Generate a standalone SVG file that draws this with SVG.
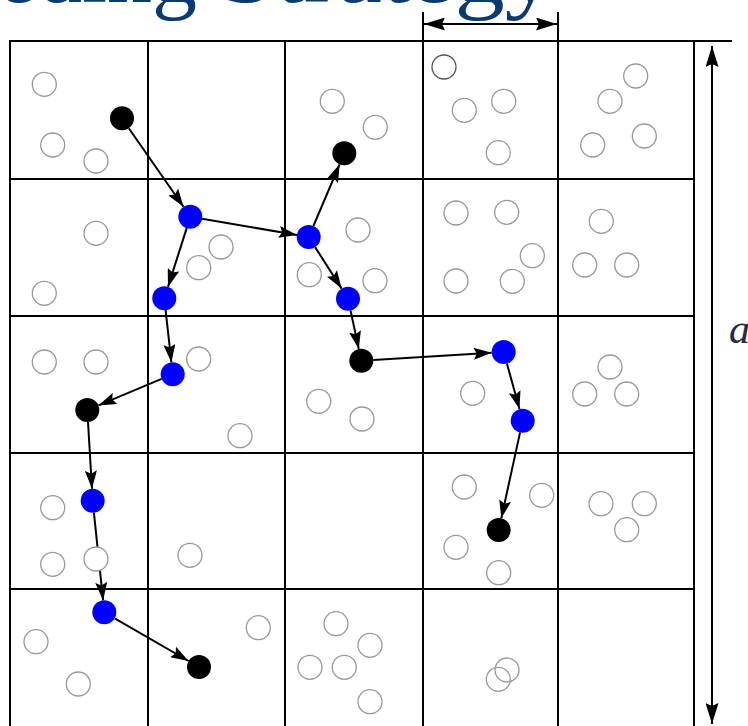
<svg xmlns="http://www.w3.org/2000/svg" width="748" height="726" viewBox="0 0 748 726">
<style>
.grid{stroke:#000;stroke-width:2;fill:none}
.open{fill:#fff;stroke:#999;stroke-width:1.3}
.dark{fill:#fff;stroke:#555;stroke-width:1.3}
.blue{fill:#0000ff;stroke:none}
.black{fill:#000;stroke:none}
.edge{stroke:#000;stroke-width:2;fill:none;marker-end:url(#ah)}
.dim{stroke:#000;stroke-width:2;fill:none;marker-start:url(#dh);marker-end:url(#dh)}
.title{font-family:"Liberation Serif",serif;font-size:90px;fill:#0b3a70}
.lbl{font-family:"Liberation Serif",serif;font-style:italic;font-size:42px;fill:#2a2a40}
</style>
<defs>
<marker id="ah" markerUnits="userSpaceOnUse" markerWidth="18" markerHeight="12" refX="18" refY="6" orient="auto">
<path d="M0,0 L18,6 L0,12 L3,6 z" fill="#000"/>
</marker>
<marker id="dh" markerUnits="userSpaceOnUse" markerWidth="21" markerHeight="13" refX="21" refY="6.5" orient="auto-start-reverse">
<path d="M0,0 L21,6.5 L0,13 L3,6.5 z" fill="#000"/>
</marker>
</defs>
<rect width="748" height="726" fill="#fff"/>

<g id="title">
<text class="title" x="197" y="2" text-anchor="end">Seeding</text>
<text class="title" x="220" y="2" textLength="335" lengthAdjust="spacingAndGlyphs">Strategy</text>
</g>

<g id="grid">
<line class="grid" x1="9" y1="41" x2="732" y2="41"/>
<line class="grid" x1="10" y1="41" x2="10" y2="726"/>
<line class="grid" x1="148" y1="41" x2="148" y2="726"/>
<line class="grid" x1="285" y1="41" x2="285" y2="726"/>
<line class="grid" x1="423" y1="12" x2="423" y2="726"/>
<line class="grid" x1="558" y1="12" x2="558" y2="726"/>
<line class="grid" x1="694" y1="41" x2="694" y2="726"/>
<line class="grid" x1="10" y1="179" x2="694" y2="179"/>
<line class="grid" x1="10" y1="316" x2="694" y2="316"/>
<line class="grid" x1="10" y1="453" x2="694" y2="453"/>
<line class="grid" x1="10" y1="589" x2="694" y2="589"/>
</g>

<g id="dimensions">
<line class="dim" x1="424" y1="24" x2="557" y2="24"/>
<line class="dim" x1="712" y1="46" x2="712" y2="724"/>
<text class="lbl" x="729" y="343">a</text>
</g>

<g id="connectors">
<line class="edge" x1="128.8" y1="128.2" x2="183.5" y2="206.8"/>
<line class="edge" x1="202.1" y1="218.7" x2="296.9" y2="235.0"/>
<line class="edge" x1="186.7" y1="228.1" x2="168.0" y2="286.9"/>
<line class="edge" x1="313.4" y1="226.0" x2="339.6" y2="164.3"/>
<line class="edge" x1="315.1" y1="247.1" x2="341.6" y2="288.6"/>
<line class="edge" x1="165.6" y1="310.2" x2="171.4" y2="362.4"/>
<line class="edge" x1="350.5" y1="310.4" x2="358.8" y2="349.0"/>
<line class="edge" x1="161.6" y1="378.9" x2="98.4" y2="405.4"/>
<line class="edge" x1="373.3" y1="360.0" x2="491.7" y2="352.7"/>
<line class="edge" x1="506.9" y1="363.6" x2="519.5" y2="409.1"/>
<line class="edge" x1="520.1" y1="432.4" x2="501.3" y2="518.3"/>
<line class="edge" x1="88.0" y1="422.0" x2="92.0" y2="488.7"/>
<line class="edge" x1="93.9" y1="512.6" x2="103.1" y2="600.4"/>
<line class="edge" x1="114.7" y1="618.3" x2="188.6" y2="661.0"/>
</g>

<g id="open-points">
<g id="o1"><circle class="open" cx="44.3" cy="84.3" r="12"/></g>
<g id="o2"><circle class="open" cx="52.7" cy="145" r="12"/></g>
<g id="o3"><circle class="open" cx="96" cy="161" r="12"/></g>
<g id="o4"><circle class="open" cx="96" cy="233.3" r="12"/></g>
<g id="o5"><circle class="open" cx="221" cy="247" r="12"/></g>
<g id="o6"><circle class="open" cx="198.7" cy="267.7" r="12"/></g>
<g id="o7"><circle class="open" cx="44.3" cy="293.3" r="12"/></g>
<g id="o8"><circle class="open" cx="332.3" cy="101.3" r="12"/></g>
<g id="o9"><circle class="open" cx="375.3" cy="127.3" r="12"/></g>
<g id="o10"><circle class="dark" cx="444" cy="67" r="12"/></g>
<g id="o11"><circle class="open" cx="464.3" cy="110.3" r="12"/></g>
<g id="o12"><circle class="open" cx="503.7" cy="101.3" r="12"/></g>
<g id="o13"><circle class="open" cx="498.3" cy="152.7" r="12"/></g>
<g id="o14"><circle class="open" cx="358" cy="230" r="12"/></g>
<g id="o15"><circle class="open" cx="309.3" cy="274.7" r="12"/></g>
<g id="o16"><circle class="open" cx="375" cy="280.7" r="12"/></g>
<g id="o17"><circle class="open" cx="456" cy="213" r="12"/></g>
<g id="o18"><circle class="open" cx="506.7" cy="212.3" r="12"/></g>
<g id="o19"><circle class="open" cx="532.3" cy="255.7" r="12"/></g>
<g id="o20"><circle class="open" cx="456" cy="281" r="12"/></g>
<g id="o21"><circle class="open" cx="512.3" cy="281.3" r="12"/></g>
<g id="o22"><circle class="open" cx="635.7" cy="76" r="12"/></g>
<g id="o23"><circle class="open" cx="610" cy="101.3" r="12"/></g>
<g id="o24"><circle class="open" cx="592.7" cy="145" r="12"/></g>
<g id="o25"><circle class="open" cx="644.3" cy="136" r="12"/></g>
<g id="o26"><circle class="open" cx="601.3" cy="221.3" r="12"/></g>
<g id="o27"><circle class="open" cx="584.7" cy="265" r="12"/></g>
<g id="o28"><circle class="open" cx="626.7" cy="265" r="12"/></g>
<g id="o29"><circle class="open" cx="44.3" cy="362" r="12"/></g>
<g id="o30"><circle class="open" cx="96" cy="362" r="12"/></g>
<g id="o31"><circle class="open" cx="198.7" cy="359" r="12"/></g>
<g id="o32"><circle class="open" cx="240" cy="435.7" r="12"/></g>
<g id="o33"><circle class="open" cx="52.7" cy="507.7" r="12"/></g>
<g id="o34"><circle class="open" cx="52.7" cy="564.3" r="12"/></g>
<g id="o35"><circle class="open" cx="96" cy="559" r="12"/></g>
<g id="o36"><circle class="open" cx="190" cy="555.3" r="12"/></g>
<g id="o37"><circle class="open" cx="318.7" cy="401.3" r="12"/></g>
<g id="o38"><circle class="open" cx="362" cy="419" r="12"/></g>
<g id="o39"><circle class="open" cx="472.7" cy="393.3" r="12"/></g>
<g id="o40"><circle class="open" cx="464.3" cy="487" r="12"/></g>
<g id="o41"><circle class="open" cx="541.7" cy="495.3" r="12"/></g>
<g id="o42"><circle class="open" cx="456" cy="547.3" r="12"/></g>
<g id="o43"><circle class="open" cx="498.7" cy="572.7" r="12"/></g>
<g id="o44"><circle class="open" cx="610" cy="367" r="12"/></g>
<g id="o45"><circle class="open" cx="584.7" cy="394" r="12"/></g>
<g id="o46"><circle class="open" cx="626.7" cy="394" r="12"/></g>
<g id="o47"><circle class="open" cx="601" cy="503.7" r="12"/></g>
<g id="o48"><circle class="open" cx="644.3" cy="503.7" r="12"/></g>
<g id="o49"><circle class="open" cx="626.7" cy="529.7" r="12"/></g>
<g id="o50"><circle class="open" cx="36" cy="641.7" r="12"/></g>
<g id="o51"><circle class="open" cx="78.3" cy="684" r="12"/></g>
<g id="o52"><circle class="open" cx="258.3" cy="627.7" r="12"/></g>
<g id="o53"><circle class="open" cx="336" cy="623.7" r="12"/></g>
<g id="o54"><circle class="open" cx="370" cy="645.3" r="12"/></g>
<g id="o55"><circle class="open" cx="310" cy="667.3" r="12"/></g>
<g id="o56"><circle class="open" cx="344.3" cy="667.3" r="12"/></g>
<g id="o57"><circle class="open" cx="370" cy="701.7" r="12"/></g>
<g id="o58"><circle class="open" cx="507" cy="670" r="12" style="fill:none"/></g>
<g id="o59"><circle class="open" cx="498.3" cy="679.3" r="12" style="fill:none"/></g>
</g>

<g id="path-points">
<g id="k1"><circle class="black" cx="122" cy="118.3" r="12"/></g>
<g id="b1"><circle class="blue" cx="190.3" cy="216.7" r="12"/></g>
<g id="b2"><circle class="blue" cx="308.7" cy="237" r="12"/></g>
<g id="b3"><circle class="blue" cx="164.3" cy="298.3" r="12"/></g>
<g id="k2"><circle class="black" cx="344.3" cy="153.3" r="12"/></g>
<g id="b4"><circle class="blue" cx="348" cy="298.7" r="12"/></g>
<g id="b5"><circle class="blue" cx="172.7" cy="374.3" r="12"/></g>
<g id="k3"><circle class="black" cx="361.3" cy="360.7" r="12"/></g>
<g id="k4"><circle class="black" cx="87.3" cy="410" r="12"/></g>
<g id="b6"><circle class="blue" cx="503.7" cy="352" r="12"/></g>
<g id="b7"><circle class="blue" cx="522.7" cy="420.7" r="12"/></g>
<g id="k5"><circle class="black" cx="498.7" cy="530" r="12"/></g>
<g id="b8"><circle class="blue" cx="92.7" cy="500.7" r="12"/></g>
<g id="b9"><circle class="blue" cx="104.3" cy="612.3" r="12"/></g>
<g id="k6"><circle class="black" cx="199" cy="667" r="12"/></g>
</g>
</svg>
